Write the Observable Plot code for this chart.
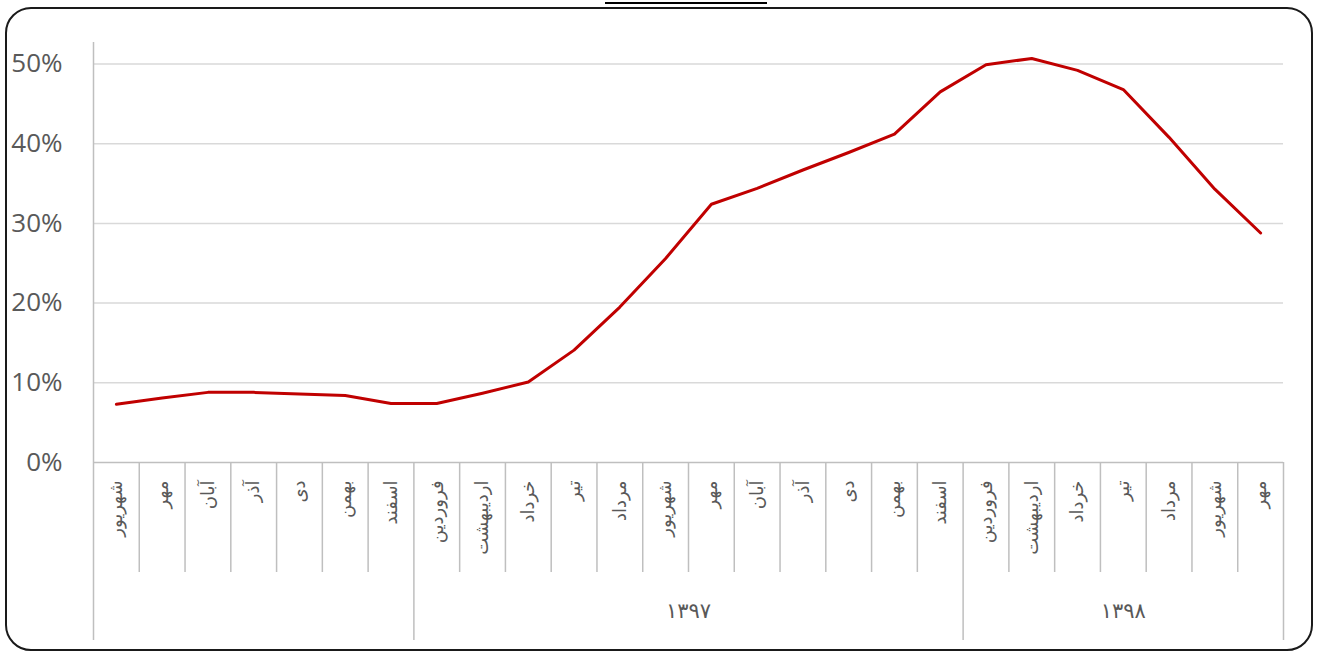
<!DOCTYPE html>
<html>
<head>
<meta charset="utf-8">
<script src="https://cdn.jsdelivr.net/npm/d3@7"></script>
<script src="https://cdn.jsdelivr.net/npm/@observablehq/plot@0.6"></script>
<style>
  html, body { margin: 0; padding: 0; background: #fff; }
  #wrap { position: relative; width: 1318px; height: 651px; overflow: hidden; }
  #frame { position: absolute; left: 5px; top: 7px; width: 1304px; height: 640px;
           border: 2px solid #1a1a1a; border-radius: 26px; pointer-events: none; }
  #titlebar { position: absolute; left: 605px; top: 2px; width: 162px; height: 2px; background: #000; }
  #chart { position: absolute; left: 0; top: 0; }
</style>
</head>
<body>
<div id="wrap">
  <div id="chart"></div>
  <div id="frame"></div>
  <div id="titlebar"></div>
</div>
<script>
const months = [
  "شهریور", "مهر", "آبان", "آذر", "دی", "بهمن", "اسفند",
  "فروردین", "اردیبهشت", "خرداد", "تیر", "مرداد", "شهریور", "مهر", "آبان", "آذر", "دی", "بهمن", "اسفند",
  "فروردین", "اردیبهشت", "خرداد", "تیر", "مرداد", "شهریور", "مهر"
];
const values = [
  7.3, 8.1, 8.8, 8.8, 8.6, 8.4, 7.4,
  7.4, 8.7, 10.1, 14.1, 19.5, 25.6, 32.4, 34.4, 36.7, 38.9, 41.2, 46.5,
  49.9, 50.7, 49.2, 46.8, 40.8, 34.3, 28.8
];
const yearLabels = ["", "۱۳۹۷", "۱۳۹۸"];
const yearCounts = [7, 12, 7];
const yTicks = [0, 10, 20, 30, 40, 50];

const points = months.map((m, i) => ({i, month: m, value: values[i]}));
let acc = 0;
const groups = yearLabels.map((label, k) => {
  const start = acc; acc += yearCounts[k];
  return {label, start, end: acc};
});
const groupBounds = [0, ...groups.map(g => g.end)];
const monthBounds = d3.range(1, months.length).filter(b => !groupBounds.includes(b));

const chart = Plot.plot({
  width: 1318,
  height: 651,
  marginLeft: 93,
  marginRight: 35,
  marginTop: 42,
  marginBottom: 189,
  x: {type: "linear", domain: [0, months.length], axis: null},
  y: {domain: [0, 52.7], axis: null},
  style: {background: "transparent", overflow: "visible"},
  marks: [
    Plot.ruleY(yTicks.filter(t => t > 0), {y: d => d, stroke: "#d9d9d9", strokeWidth: 1.5}),
    Plot.ruleX([0], {stroke: "#bfbfbf", strokeWidth: 1.5}),
    Plot.ruleY([0], {stroke: "#bfbfbf", strokeWidth: 1.5}),
    Plot.ruleX(monthBounds, {x: d => d, y1: 0, y2: 0, insetBottom: -110, stroke: "#bfbfbf", strokeWidth: 1.5}),
    Plot.ruleX(groupBounds, {x: d => d, y1: 0, y2: 0, insetBottom: -178, stroke: "#bfbfbf", strokeWidth: 1.5}),
    Plot.axisY({ticks: yTicks, tickFormat: d => d + "%", tickSize: 0, tickPadding: 31, label: null,
      fontSize: 26, fill: "#595959", fontFamily: "Open Sans"}),
    Plot.text(points, {x: d => d.i + 0.5, y: 0, text: "month", rotate: -90, textAnchor: "end",
      dy: 18, fontSize: 18, fill: "#595959", fontFamily: "DejaVu Sans"}),
    Plot.text(groups, {x: d => (d.start + d.end) / 2, y: 0, text: "label", dy: 149,
      fontSize: 21, fill: "#595959", fontFamily: "DejaVu Sans"}),
    Plot.line(points, {x: d => d.i + 0.5, y: "value", stroke: "#c00000", strokeWidth: 3,
      strokeLinejoin: "round", strokeLinecap: "round"})
  ]
});
document.getElementById("chart").appendChild(chart);
</script>
</body>
</html>
